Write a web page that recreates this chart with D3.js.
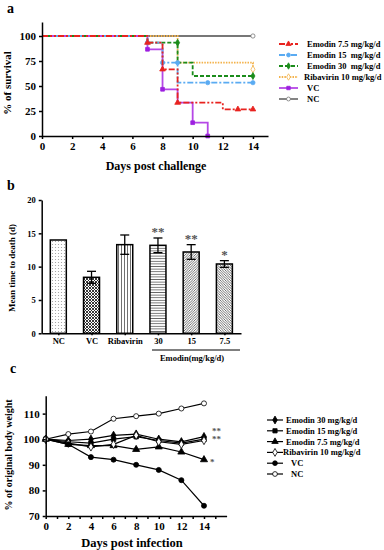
<!DOCTYPE html>
<html>
<head>
<meta charset="utf-8">
<script src="https://cdn.jsdelivr.net/npm/d3@7"></script>
<style>
  body { margin: 0; background: #fff; }
  text { font-family: "Liberation Serif", "Times New Roman", serif; font-weight: bold; }
</style>
</head>
<body>
<div id="chart"></div>
<script>
// ---------- data: panel a (survival) ----------
var survNames = ["Emodin 7.5 mg/kg/d", "Emodin 15  mg/kg/d", "Emodin 30  mg/kg/d", "Ribavirin 10 mg/kg/d", "VC", "NC"];
var survDays = [
  [0, 7, 8, 9, 12, 14],
  [0, 7, 8, 9, 14],
  [0, 7, 9, 10, 14],
  [0, 9, 14, 14],
  [0, 7, 8, 9, 10, 11],
  [0, 14]
];
var survVals = [
  [100, 93.3, 66.7, 33.3, 26.7, 26.7],
  [100, 93.3, 73.3, 53.3, 53.3],
  [100, 93.3, 73.3, 60, 60],
  [100, 73.3, 73.3, 66.7],
  [100, 86.7, 46.7, 33.3, 13.3, 0],
  [100, 100]
];
// censor / event marks
var survMarkDays = [
  [7, 8, 9, 13, 14],
  [7, 8, 9, 11, 14],
  [9, 14],
  [14],
  [7, 8, 10, 11],
  [14]
];
var survMarkVals = [
  [93.3, 66.7, 33.3, 26.7, 26.7],
  [93.3, 73.3, 73.3, 53.3, 53.3],
  [93.3, 60],
  [66.7],
  [86.7, 46.7, 13.3, 0],
  [100]
];

// ---------- data: panel b (mean time to death) ----------
var mtdGroups = ["NC", "VC", "Ribavirin", "30", "15", "7.5"];
var mtdMeans = [14, 8.4, 13.3, 13.2, 12.2, 10.4];
var mtdErr = [0, 0.9, 1.45, 1.1, 1.1, 0.5];
var mtdSig = ["", "", "", "**", "**", "*"];

// ---------- data: panel c (body weight) ----------
var bwDays = [0, 2, 4, 6, 8, 10, 12, 14];
var bwNames = ["Emodin 30 mg/kg/d", "Emodin 15 mg/kg/d", "Emodin 7.5 mg/kg/d", "Ribavirin 10 mg/kg/d", "VC", "NC"];
var bwVals = [
  [100, 99.5, 100, 101.5, 102, 100, 99, 101],
  [100, 99, 98.5, 100, 101, 99.5, 98.5, 100],
  [100, 98, 97.5, 97.5, 96, 97, 95, 92],
  [100, 98.5, 97, 98, 101.5, 99, 98, 99.5],
  [100, 98, 93, 92, 90, 88, 84, 74],
  [100, 102, 103, 108, 109, 110, 112, 114]
];
var bwSig = ["**", "**", "*"];

var svg = d3.select("#chart").append("svg")
  .attr("width", 384)
  .attr("height", 550);

// patterns for panel b
var defs = svg.append("defs");
function pat(id, w, h, draw) {
  var p = defs.append("pattern").attr("id", id)
    .attr("patternUnits", "userSpaceOnUse").attr("width", w).attr("height", h);
  p.append("rect").attr("width", w).attr("height", h).attr("fill", "#fff");
  draw(p);
}
pat("pNC", 3, 3, function(p) {
  p.append("circle").attr("cx", 1.5).attr("cy", 1.5).attr("r", 0.6).attr("fill", "#999");
});
pat("pVC", 3, 3, function(p) {
  p.append("path").attr("d", "M0,0L3,3M3,0L0,3").attr("stroke", "#222").attr("stroke-width", 0.9);
});
pat("pRib", 3, 3, function(p) {
  p.append("path").attr("d", "M1.5,0V3").attr("stroke", "#333").attr("stroke-width", 0.7);
});
pat("p30", 3, 2.6, function(p) {
  p.append("path").attr("d", "M0,1.3H3").attr("stroke", "#333").attr("stroke-width", 0.7);
});
pat("p15", 2.5, 2.5, function(p) {
  p.append("path").attr("d", "M0,2.5L2.5,0M-1,1L1,-1M1.5,3.5L3.5,1.5").attr("stroke", "#333").attr("stroke-width", 0.7);
});
pat("p75", 2.5, 2.5, function(p) {
  p.append("path").attr("d", "M0,0L2.5,2.5M-1,1.5L1,3.5M1.5,-1L3.5,1").attr("stroke", "#333").attr("stroke-width", 0.7);
});
var mtdFill = ["url(#pNC)", "url(#pVC)", "url(#pRib)", "url(#p30)", "url(#p15)", "url(#p75)"];

function styleAxis(g, size) {
  g.selectAll("path, line").attr("stroke", "#000").attr("stroke-width", 1.5);
  g.selectAll("text").style("font-size", size + "px").style("font-family", "Liberation Serif").style("font-weight", "bold").attr("fill", "#000");
}

function markerPath(shape, size) {
  var sym = {circle: d3.symbolCircle, square: d3.symbolSquare, triangle: d3.symbolTriangle, diamond: d3.symbolDiamond}[shape];
  return d3.symbol().type(sym).size(size)();
}

// ================= panel a =================
var ax = d3.scaleLinear().domain([0, 15]).range([42, 268]);
var ay = d3.scaleLinear().domain([0, 114]).range([136, 22]);

svg.append("text").attr("x", 7).attr("y", 13).style("font-size", "14px").text("a");

var aColors = ["#e8231f", "#5aabf2", "#1b8c1b", "#f3b24a", "#b547e6", "#777"];
var aDash = ["6,2,2,2,2,2", "6,2,2,2", "4,2", "1.5,1.2", null, null];
var aMark = ["triangle", "circle", "diamond", "diamond", "square", "circle"];
var aMarkFill = ["#e8231f", "#5aabf2", "#1b8c1b", "#fff", "#9d1fe0", "#fff"];

var aLine = d3.line().x(function(d) { return ax(d[0]); }).y(function(d) { return ay(d[1]); }).curve(d3.curveStepAfter);

// draw bottom series first so red / blue sit on top like the original
var aOrder = [5, 3, 4, 2, 1, 0];
aOrder.forEach(function(i) {
  var pts = survDays[i].map(function(d, j) { return [d, survVals[i][j]]; });
  svg.append("path").datum(pts)
    .attr("d", aLine)
    .attr("fill", "none")
    .attr("stroke", aColors[i])
    .attr("stroke-width", 1.8)
    .attr("stroke-dasharray", aDash[i]);
  svg.selectAll(null).data(survMarkDays[i].map(function(d, j) { return [d, survMarkVals[i][j]]; }))
    .enter().append("path")
    .attr("transform", function(d) { return "translate(" + ax(d[0]) + "," + ay(d[1]) + ")"; })
    .attr("d", markerPath(aMark[i], 14))
    .attr("fill", aMarkFill[i])
    .attr("stroke", i == 4 ? "#9d1fe0" : aColors[i])
    .attr("stroke-width", 0.8);
});

svg.append("g").attr("transform", "translate(0,136)")
  .call(d3.axisBottom(ax).tickValues(d3.range(0, 15, 2)).tickSize(3).tickSizeOuter(0))
  .call(styleAxis, 11);
svg.append("g").attr("transform", "translate(42,0)")
  .call(d3.axisLeft(ay).tickValues([0, 25, 50, 75, 100]).tickSize(3).tickSizeOuter(0))
  .call(styleAxis, 11);

svg.append("text").attr("x", 156).attr("y", 170).attr("text-anchor", "middle")
  .style("font-size", "12px").text("Days post challenge");
svg.append("text").attr("transform", "translate(11,83) rotate(-90)").attr("text-anchor", "middle")
  .style("font-size", "11px").text("% of survival");

// legend a
survNames.forEach(function(name, i) {
  var y = 44 + i * 11;
  svg.append("line").attr("x1", 279).attr("x2", 298).attr("y1", y).attr("y2", y)
    .attr("stroke", aColors[i]).attr("stroke-width", 1.8).attr("stroke-dasharray", aDash[i]);
  svg.append("path").attr("transform", "translate(288.5," + y + ")")
    .attr("d", markerPath(aMark[i], 12))
    .attr("fill", aMarkFill[i]).attr("stroke", i == 4 ? "#9d1fe0" : aColors[i]).attr("stroke-width", 0.8);
  svg.append("text").attr("x", i == 3 ? 304 : 307).attr("y", y + 3)
    .style("font-size", "8.5px").style("white-space", "pre").text(name);
});

// ================= panel b =================
var bx = d3.scalePoint().domain(mtdGroups).range([41.7, 241]).padding(0.5);
var by = d3.scaleLinear().domain([0, 20]).range([333.3, 200]);
var barW = 16;

svg.append("text").attr("x", 7).attr("y", 190).style("font-size", "14px").text("b");

svg.selectAll(".bar").data(mtdGroups).enter().append("rect")
  .attr("x", function(d) { return bx(d) - barW / 2; })
  .attr("y", function(d, i) { return by(mtdMeans[i]); })
  .attr("width", barW)
  .attr("height", function(d, i) { return by(0) - by(mtdMeans[i]); })
  .attr("fill", function(d, i) { return mtdFill[i]; })
  .attr("stroke", "#000").attr("stroke-width", 1.5);

mtdGroups.forEach(function(g, i) {
  if (mtdErr[i] > 0) {
    var cx = bx(g), top = by(mtdMeans[i] + mtdErr[i]), bot = by(mtdMeans[i] - mtdErr[i]);
    svg.append("line").attr("x1", cx).attr("x2", cx).attr("y1", top).attr("y2", bot).attr("stroke", "#000").attr("stroke-width", 1.3);
    svg.append("line").attr("x1", cx - 4.5).attr("x2", cx + 4.5).attr("y1", top).attr("y2", top).attr("stroke", "#000").attr("stroke-width", 1.3);
    svg.append("line").attr("x1", cx - 4.5).attr("x2", cx + 4.5).attr("y1", bot).attr("y2", bot).attr("stroke", "#000").attr("stroke-width", 1.3);
  }
  if (mtdSig[i]) {
    svg.append("text").attr("x", bx(g)).attr("y", by(mtdMeans[i] + mtdErr[i]) - 2)
      .attr("text-anchor", "middle").attr("fill", "#555").style("font-size", "13px").text(mtdSig[i]);
  }
});

svg.append("g").attr("transform", "translate(0,333.3)")
  .call(d3.axisBottom(bx).tickSize(2).tickSizeOuter(0).tickPadding(3))
  .call(styleAxis, 8.5);
svg.append("g").attr("transform", "translate(41.7,0)")
  .call(d3.axisLeft(by).tickValues([0, 5, 10, 15, 20]).tickSize(3).tickSizeOuter(0))
  .call(styleAxis, 8.5);

svg.append("line").attr("x1", 152).attr("x2", 240).attr("y1", 350).attr("y2", 350).attr("stroke", "#000").attr("stroke-width", 1);
svg.append("text").attr("x", 192).attr("y", 361).attr("text-anchor", "middle").style("font-size", "8.5px").text("Emodin(mg/kg/d)");
svg.append("text").attr("transform", "translate(15,268) rotate(-90)").attr("text-anchor", "middle")
  .style("font-size", "9px").text("Mean time to death (d)");

// ================= panel c =================
var cx = d3.scaleLinear().domain([0, 16]).range([45.7, 226.6]);
var cy = d3.scaleLinear().domain([70, 117]).range([516, 395.7]);

svg.append("text").attr("x", 10).attr("y", 373).style("font-size", "14px").text("c");

var cMark = ["diamond", "square", "triangle", "diamond", "circle", "circle"];
var cFill = ["#000", "#000", "#000", "#fff", "#000", "#fff"];
var cLine = d3.line().x(function(d, j) { return cx(bwDays[j]); }).y(function(d) { return cy(d); });

bwVals.forEach(function(vals, i) {
  svg.append("path").datum(vals).attr("d", cLine)
    .attr("fill", "none").attr("stroke", "#000").attr("stroke-width", 1.2);
});
bwVals.forEach(function(vals, i) {
  svg.selectAll(null).data(vals).enter().append("path")
    .attr("transform", function(d, j) { return "translate(" + cx(bwDays[j]) + "," + cy(d) + ")"; })
    .attr("d", markerPath(cMark[i], cMark[i] == "triangle" ? 22 : 20))
    .attr("fill", cFill[i]).attr("stroke", "#000").attr("stroke-width", 0.8);
});

svg.append("g").attr("transform", "translate(0,516)")
  .call(d3.axisBottom(cx).tickValues(d3.range(0, 16)).tickSize(3).tickSizeOuter(0)
    .tickFormat(function(d) { return d % 2 == 0 ? d : ""; }))
  .call(styleAxis, 11);
svg.append("g").attr("transform", "translate(45.7,0)")
  .call(d3.axisLeft(cy).tickValues([70, 80, 90, 100, 110]).tickSize(3).tickSizeOuter(0))
  .call(styleAxis, 11);

svg.append("text").attr("x", 132).attr("y", 547).attr("text-anchor", "middle")
  .style("font-size", "12.5px").text("Days post infection");
svg.append("text").attr("transform", "translate(12,455) rotate(-90)").attr("text-anchor", "middle")
  .style("font-size", "10px").text("% of original body weight");

// significance marks c, next to last point of the emodin series
var sigShift = [-3, 3, 5.5];
bwSig.forEach(function(s, i) {
  svg.append("text").attr("x", cx(14) + (i == 2 ? 6 : 8)).attr("y", cy(bwVals[i][7]) + sigShift[i])
    .attr("fill", "#555").style("font-size", "9px").text(s);
});

// legend c
bwNames.forEach(function(name, i) {
  var y = 420 + i * 10.8;
  svg.append("line").attr("x1", 267).attr("x2", 283).attr("y1", y).attr("y2", y).attr("stroke", "#000").attr("stroke-width", 1.2);
  svg.append("path").attr("transform", "translate(275," + y + ")")
    .attr("d", markerPath(cMark[i], 18))
    .attr("fill", cFill[i]).attr("stroke", "#000").attr("stroke-width", 0.8);
  svg.append("text").attr("x", i >= 4 ? 291 : (i == 3 ? 283 : 286)).attr("y", y + 3)
    .style("font-size", "8.5px").text(name);
});
</script>
</body>
</html>
